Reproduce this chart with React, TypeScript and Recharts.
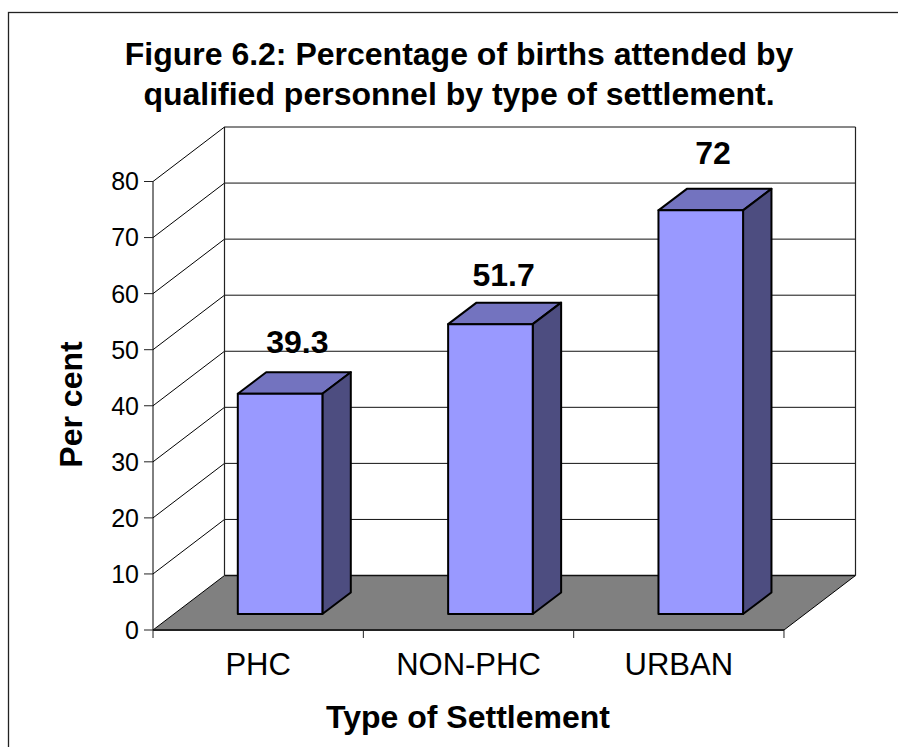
import { Bar, BarChart, CartesianGrid, LabelList, XAxis, YAxis } from "recharts";

const categories = ["PHC", "NON-PHC", "URBAN"];
const percentages = [39.3, 51.7, 72];
const yTicks = [0, 10, 20, 30, 40, 50, 60, 70, 80];
const titleLines = [
  "Figure 6.2: Percentage of births attended by",
  "qualified personnel by type of settlement.",
];

const data = categories.map((name, i) => ({ name, value: percentages[i] }));

const font = "'Liberation Sans', Arial, sans-serif";
const wallDx = 71.5;
const wallDy = 54.5;
const barDx = 28.4;
const barDy = 21.5;
// bars sit part way into the floor
const barShiftX = 21.8;
const barShiftY = 16;
const plotTop = 181.5;
const plotBottom = 630;
const labelShift = [
  { x: 3, y: 0 },
  { x: -1, y: 2 },
  { x: -2, y: -6 },
];

function GridLine({ x1, x2, y1, index }: any) {
  const isBase = Math.abs(y1 - plotBottom) < 1;
  const isTop = Math.abs(y1 - plotTop) < 1;
  const backY = y1 - wallDy;
  const backL = x1 + wallDx;
  const backR = x2 + wallDx;
  return (
    <g key={index}>
      {isBase && (
        <polygon
          points={`${x1},${y1} ${backL},${backY} ${backR},${backY} ${x2},${y1}`}
          fill="#808080"
          stroke="none"
        />
      )}
      {isBase && <line x1={x2} y1={y1} x2={backR} y2={backY} stroke="#000" strokeWidth={1} />}
      {isTop && <line x1={backL} y1={backY} x2={backL} y2={plotBottom - wallDy} stroke="#222" strokeWidth={1.2} />}
      {isTop && <line x1={backR} y1={backY} x2={backR} y2={plotBottom - wallDy} stroke="#222" strokeWidth={1.2} />}
      <line x1={x1} y1={y1} x2={backL} y2={backY} stroke="#000" strokeWidth={1} />
      <line x1={backL} y1={backY} x2={backR} y2={backY} stroke="#111" strokeWidth={isBase ? 1.6 : 1} />
    </g>
  );
}

function Bar3D({ x, y, width, height }: any) {
  const l = x + barShiftX;
  const r = l + width;
  const t = y - barShiftY;
  const b = t + height;
  return (
    <g stroke="#000" strokeWidth={2} strokeLinejoin="round">
      <polygon points={`${l},${t} ${l + barDx},${t - barDy} ${r + barDx},${t - barDy} ${r},${t}`} fill="#7373BF" />
      <polygon points={`${r},${t} ${r + barDx},${t - barDy} ${r + barDx},${b - barDy} ${r},${b}`} fill="#4D4D80" />
      <rect x={l} y={t} width={width} height={height} fill="#9999FF" />
    </g>
  );
}

function ValueLabel({ x, y, width, value, index }: any) {
  const shift = labelShift[index];
  return (
    <text
      x={x + barShiftX + width / 2 + barDx / 2 + shift.x}
      y={y - barShiftY - barDy - 19 + shift.y}
      textAnchor="middle"
      fontFamily={font}
      fontSize={32}
      fontWeight="bold"
      fill="#000"
    >
      {value}
    </text>
  );
}

function CategoryTick({ x, y, payload, index }: any) {
  const band = 210.3;
  const left = x - band / 2;
  return (
    <g>
      <line x1={left} y1={y - 8} x2={left} y2={y} stroke="#222" />
      {index === categories.length - 1 && <line x1={left + band} y1={y - 8} x2={left + band} y2={y} stroke="#222" />}
      <text x={x} y={y + 37} textAnchor="middle" fontFamily={font} fontSize={31} fill="#000">
        {payload.value}
      </text>
    </g>
  );
}

export default function App() {
  return (
    <div style={{ position: "absolute", left: 0, top: 0, width: 898, height: 747, overflow: "hidden", background: "#fff" }}>
      <BarChart
        width={898}
        height={747}
        data={data}
        margin={{ top: 181.5, right: 114, bottom: 57, left: 53 }}
        barSize={84.6}
      >
        <rect x={8.5} y={12.5} width={1000} height={1000} fill="none" stroke="#222" strokeWidth={1.3} />
        {titleLines.map((line, i) => (
          <text
            key={line}
            x={459}
            y={65 + i * 40}
            textAnchor="middle"
            fontFamily={font}
            fontSize={32}
            fontWeight="bold"
            fill="#000"
          >
            {line}
          </text>
        ))}
        <text
          transform="translate(82 404.5) rotate(-90)"
          textAnchor="middle"
          fontFamily={font}
          fontSize={32}
          fontWeight="bold"
          fill="#000"
        >
          Per cent
        </text>
        <text x={468} y={728} textAnchor="middle" fontFamily={font} fontSize={32} fontWeight="bold" fill="#000">
          Type of Settlement
        </text>
        <CartesianGrid vertical={false} horizontal={(props: any) => <GridLine {...props} />} />
        <XAxis
          dataKey="name"
          height={60}
          interval={0}
          tick={<CategoryTick />}
          tickLine={false}
          axisLine={{ stroke: "#222", strokeWidth: 2 }}
        />
        <YAxis
          width={100}
          domain={[0, 80]}
          ticks={yTicks}
          tickSize={9}
          tickMargin={5}
          tick={{ fontFamily: font, fontSize: 25, fill: "#000" }}
          tickLine={{ stroke: "#222" }}
          axisLine={{ stroke: "#000" }}
        />
        <Bar dataKey="value" shape={<Bar3D />} isAnimationActive={false}>
          <LabelList dataKey="value" content={<ValueLabel />} />
        </Bar>
      </BarChart>
    </div>
  );
}
